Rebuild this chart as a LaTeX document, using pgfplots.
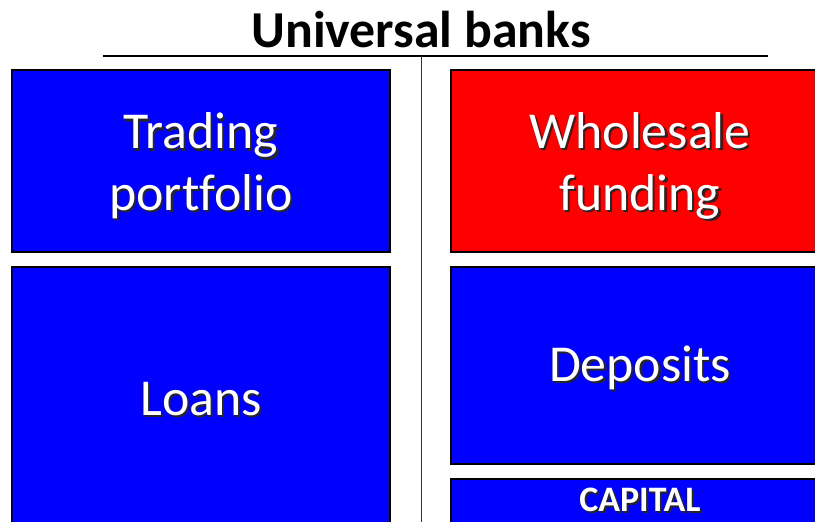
\documentclass[border=0pt]{standalone}
\usepackage{fontspec}
\setmainfont{Carlito}[Ligatures=NoCommon]
\usepackage{pgfplots}
\pgfplotsset{compat=1.18}
\definecolor{BoxBlue}{HTML}{0000FF}
\definecolor{BoxRed}{HTML}{FF0000}
\tikzset{
 lbl/.style={text=white,align=center,font=\fontsize{52}{62}\selectfont},
 shd/.style={text=black!85,align=center,font=\fontsize{52}{62}\selectfont},
}
\newcommand{\shadowtext}[3][\fontsize{52}{62}\selectfont]{%
 \node[shd,font=#1] at ([shift={(2.2pt,-2.2pt)}]axis cs:#2) {#3};
 \node[lbl,font=#1] at (axis cs:#2) {#3};}
\begin{document}
\begin{tikzpicture}
\begin{axis}[width=815bp,height=522bp,scale only axis,
 xmin=0,xmax=815,ymin=0,ymax=522,y dir=reverse,axis lines=none]
% boxes (pixel coordinates, y downwards)
\addplot[fill=BoxBlue,draw=black,line width=1.3pt] coordinates {(12,70) (390,70) (390,252) (12,252)} -- cycle;
\addplot[fill=BoxBlue,draw=black,line width=1.3pt] coordinates {(12,267) (390,267) (390,530) (12,530)} -- cycle;
\addplot[fill=BoxRed,draw=black,line width=1.3pt] coordinates {(451,70) (825,70) (825,252) (451,252)} -- cycle;
\addplot[fill=BoxBlue,draw=black,line width=1.3pt] coordinates {(451,267) (825,267) (825,464) (451,464)} -- cycle;
\addplot[fill=BoxBlue,draw=black,line width=1.3pt] coordinates {(451,479) (825,479) (825,530) (451,530)} -- cycle;
% T-account lines
\addplot[black,line width=1.5pt] coordinates {(103,56) (768,56)};
\addplot[black!80,line width=1pt] coordinates {(421,56) (421,530)};
% labels
\node[font=\fontsize{52}{60}\selectfont\bfseries] at (axis cs:421,30) {Universal banks};
\shadowtext{201,166}{Trading\\portfolio}
\shadowtext{201,399}{Loans}
\shadowtext{640,166}{Wholesale\\funding}
\shadowtext{640,368}{Deposits}
\shadowtext[\fontsize{36}{42}\selectfont\bfseries]{640,500}{CAPITAL}
\coordinate (ll) at (rel axis cs:0,0);
\coordinate (ur) at (rel axis cs:1,1);
\end{axis}
\pgfresetboundingbox
\useasboundingbox (ll) rectangle (ur);
\end{tikzpicture}
\end{document}
